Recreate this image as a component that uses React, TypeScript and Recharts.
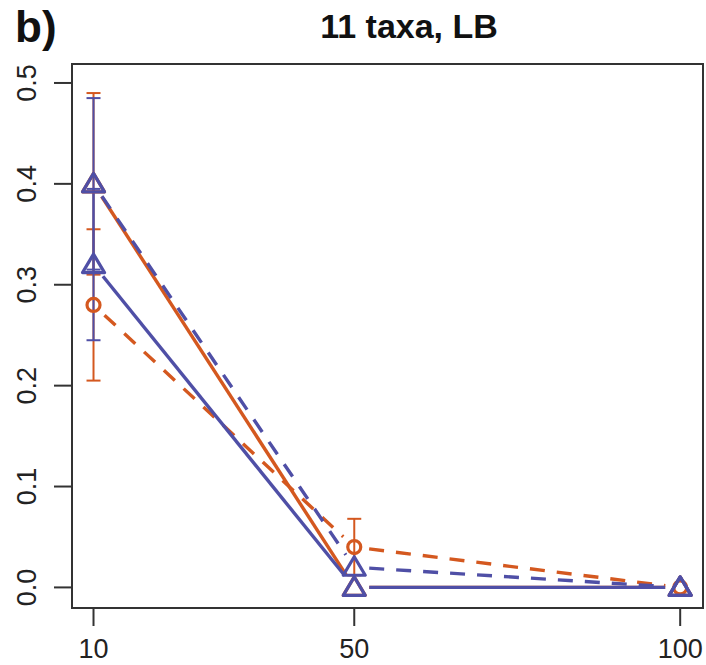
import { LineChart, Line, XAxis, YAxis, ErrorBar, ReferenceArea } from "recharts";

const xValues = [10, 50, 100];
const orangeSolid = [0.4, 0.0, 0.0];
const orangeSolidErr = [0.09, 0, 0];
const blueSolid = [0.32, 0.0, 0.0];
const blueSolidErr = [0.075, 0, 0];
const orangeDashed = [0.28, 0.04, 0.0];
const orangeDashedErr = [0.075, 0.028, 0];
const blueDashed = [0.4, 0.02, 0.0];
const blueDashedErr = [0.085, 0, 0];
const xTicks = [10, 50, 100];
const yTicks = [0, 0.1, 0.2, 0.3, 0.4, 0.5];

const ORANGE = "#D4581F";
const BLUE = "#4F4FA6";
const AXIS = "#333333";
const FONT = "'Liberation Sans', Arial, sans-serif";
const X_DOMAIN = [6.7, 103.5];
const Y_DOMAIN = [-0.0204, 0.5188];

const data = xValues.map((x, i) => ({
  x,
  os: orangeSolid[i],
  osErr: orangeSolidErr[i],
  bs: blueSolid[i],
  bsErr: blueSolidErr[i],
  od: orangeDashed[i],
  odErr: orangeDashedErr[i],
  bd: blueDashed[i],
  bdErr: blueDashedErr[i],
}));

// R type="b": segments stop short of each point
const gapSegment = (color: string, dash?: string) => (props: any) => {
  const { points, index } = props;
  const p = points?.[index];
  const q = points?.[index + 1];
  if (!p || !q) return <g key={`s-${index}`} />;
  const dx = q.x - p.x;
  const dy = q.y - p.y;
  const len = Math.hypot(dx, dy);
  const gap = 15;
  if (len <= gap * 2) return <g key={`s-${index}`} />;
  const ux = dx / len;
  const uy = dy / len;
  return (
    <line
      key={`s-${index}`}
      x1={p.x + ux * gap}
      y1={p.y + uy * gap}
      x2={q.x - ux * gap}
      y2={q.y - uy * gap}
      stroke={color}
      strokeWidth={3.4}
      strokeDasharray={dash}
    />
  );
};

const triangle = (color: string) => (props: any) => {
  const { cx, cy, index } = props;
  return (
    <path
      key={`t-${index}`}
      d={`M${cx},${cy - 10.5}L${cx + 11},${cy + 8}L${cx - 11},${cy + 8}Z`}
      fill="none"
      stroke={color}
      strokeWidth={3.2}
      strokeLinejoin="round"
    />
  );
};

const circle = (color: string) => (props: any) => {
  const { cx, cy, index } = props;
  return (
    <circle key={`c-${index}`} cx={cx} cy={cy} r={6.5} fill="none" stroke={color} strokeWidth={3.2} />
  );
};

const YTick = (props: any) => {
  const { x, y, payload } = props;
  const tx = x - 25;
  return (
    <text
      x={tx}
      y={y}
      dy="0.35em"
      transform={`rotate(-90, ${tx}, ${y})`}
      textAnchor="middle"
      fontSize={27}
      fontFamily={FONT}
      fill="#222"
    >
      {payload.value.toFixed(1)}
    </text>
  );
};

export default function App() {
  return (
    <div style={{ position: "absolute", left: 0, top: 0, width: 706, height: 665, background: "#fff" }}>
      <svg width={706} height={70} style={{ position: "absolute", left: 0, top: 0 }}>
        <text x={15} y={42} fontSize={44} fontWeight="bold" fontFamily={FONT} fill="#111">
          b)
        </text>
        <text x={409} y={38} fontSize={34} fontWeight="bold" fontFamily={FONT} fill="#111" textAnchor="middle">
          11 taxa, LB
        </text>
      </svg>
      <div style={{ position: "absolute", left: 0, top: 0 }}>
        <LineChart
          width={706}
          height={665}
          data={data}
          margin={{ top: 64, right: 3, bottom: 0, left: 0 }}
        >
          <XAxis
            dataKey="x"
            type="number"
            domain={X_DOMAIN}
            allowDataOverflow
            ticks={xTicks}
            height={57}
            axisLine={false}
            tickSize={18}
            tickMargin={13}
            tickLine={{ stroke: AXIS, strokeWidth: 2 }}
            tick={{ fontSize: 27, fontFamily: FONT, fill: "#222" }}
          />
          <YAxis
            type="number"
            domain={Y_DOMAIN}
            allowDataOverflow
            ticks={yTicks}
            width={72}
            axisLine={false}
            tickSize={18}
            tickLine={{ stroke: AXIS, strokeWidth: 2 }}
            tick={<YTick />}
          />
          <ReferenceArea
            x1={X_DOMAIN[0]}
            x2={X_DOMAIN[1]}
            y1={Y_DOMAIN[0]}
            y2={Y_DOMAIN[1]}
            fill="none"
            stroke={AXIS}
            strokeWidth={2}
          />
          {/* connecting segments */}
          <Line dataKey="os" stroke="none" dot={gapSegment(ORANGE)} activeDot={false} isAnimationActive={false} />
          <Line dataKey="od" stroke="none" dot={gapSegment(ORANGE, "15 12")} activeDot={false} isAnimationActive={false} />
          <Line dataKey="bs" stroke="none" dot={gapSegment(BLUE)} activeDot={false} isAnimationActive={false} />
          <Line dataKey="bd" stroke="none" dot={gapSegment(BLUE, "15 12")} activeDot={false} isAnimationActive={false} />
          {/* error bars */}
          <Line dataKey="os" stroke="none" dot={false} activeDot={false} isAnimationActive={false}>
            <ErrorBar dataKey="osErr" width={7} stroke={ORANGE} strokeWidth={2} isAnimationActive={false} />
          </Line>
          <Line dataKey="od" stroke="none" dot={false} activeDot={false} isAnimationActive={false}>
            <ErrorBar dataKey="odErr" width={7} stroke={ORANGE} strokeWidth={2} isAnimationActive={false} />
          </Line>
          <Line dataKey="bs" stroke="none" dot={false} activeDot={false} isAnimationActive={false}>
            <ErrorBar dataKey="bsErr" width={7} stroke={BLUE} strokeWidth={2} isAnimationActive={false} />
          </Line>
          <Line dataKey="bd" stroke="none" dot={false} activeDot={false} isAnimationActive={false}>
            <ErrorBar dataKey="bdErr" width={7} stroke={BLUE} strokeWidth={2} isAnimationActive={false} />
          </Line>
          {/* markers */}
          <Line dataKey="os" stroke="none" dot={triangle(ORANGE)} activeDot={false} isAnimationActive={false} />
          <Line dataKey="od" stroke="none" dot={circle(ORANGE)} activeDot={false} isAnimationActive={false} />
          <Line dataKey="bs" stroke="none" dot={triangle(BLUE)} activeDot={false} isAnimationActive={false} />
          <Line dataKey="bd" stroke="none" dot={triangle(BLUE)} activeDot={false} isAnimationActive={false} />
        </LineChart>
      </div>
    </div>
  );
}
